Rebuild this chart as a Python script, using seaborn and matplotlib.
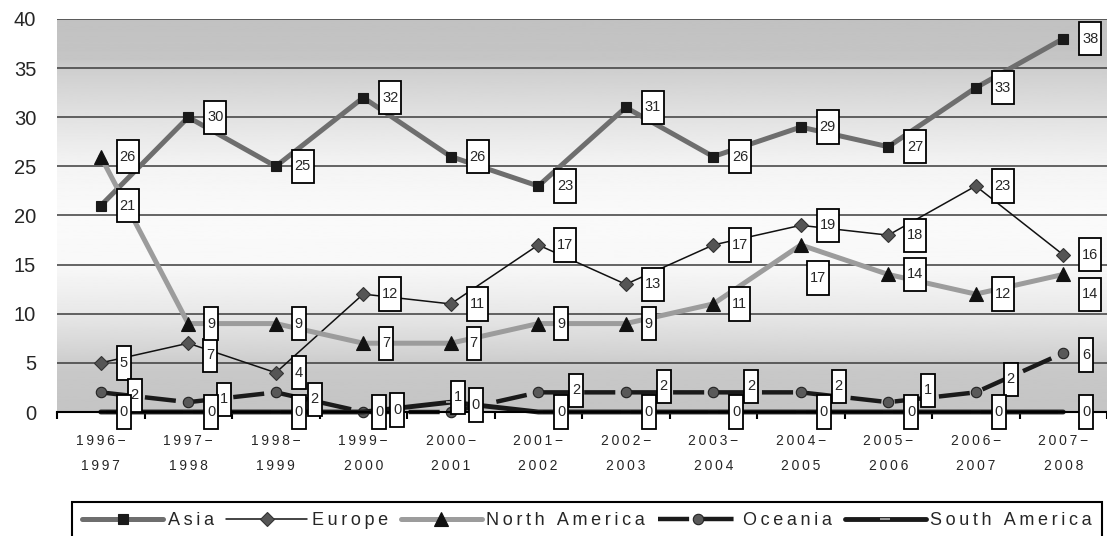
import numpy as np
import pandas as pd
import seaborn as sns
import matplotlib.pyplot as plt
from matplotlib.path import Path

# academic years on the x axis
periods = ["1996-1997", "1997-1998", "1998-1999", "1999-2000", "2000-2001", "2001-2002",
           "2002-2003", "2003-2004", "2004-2005", "2005-2006", "2006-2007", "2007-2008"]
regions = ["Asia", "Europe", "North America", "Oceania", "South America"]

asia = [21, 30, 25, 32, 26, 23, 31, 26, 29, 27, 33, 38]
europe = [5, 7, 4, 12, 11, 17, 13, 17, 19, 18, 23, 16]
north_america = [26, 9, 9, 7, 7, 9, 9, 11, 17, 14, 12, 14]
oceania = [2, 1, 2, 0, 0, 2, 2, 2, 2, 1, 2, 6]
south_america = [0, 0, 0, 0, 1, 0, 0, 0, 0, 0, 0, 0]
y_ticks = [0, 5, 10, 15, 20, 25, 30, 35, 40]

df = pd.DataFrame({
    "period": periods * len(regions),
    "region": np.repeat(regions, len(periods)),
    "count": asia + europe + north_america + oceania + south_america,
})
df["pos"] = df.groupby("region").cumcount()

styles = {
    "Asia": dict(color="#6e6e6e", lw=3.6, marker="s", ms=7.5, mfc="#1a1a1a", mec="#1a1a1a"),
    "Europe": dict(color="#111111", lw=1.1, marker="D", ms=7, mfc="#555555", mec="#333333"),
    "North America": dict(color="#9c9c9c", lw=3.6, marker="^", ms=9.5, mfc="#111111", mec="#111111"),
    "Oceania": dict(color="#1a1a1a", lw=3.2, marker="o", ms=7.5, mfc="#595959", mec="#222222",
                    dashes=(7, 3)),
    "South America": dict(color="#1a1a1a", lw=3.5, marker="_", ms=7, mfc="#999999", mec="#999999"),
}

# label box: left edge offset from the point and downward shift, in pixels
label_default = {"Asia": (16, 0), "Europe": (16, 0), "North America": (16, 0),
                 "Oceania": (31, -6), "South America": (16, 0)}
label_override = {
    ("Europe", 1): (15, 12),
    ("North America", 8): (6, 33),
    ("North America", 11): (16, 20),
    ("Oceania", 0): (27, 3),
    ("Oceania", 1): (29, -3),
    ("Oceania", 2): (32, 7),
    ("Oceania", 3): (27, -2),
    ("Oceania", 4): (18, -7),
    ("Oceania", 5): (31, -2),
    ("Oceania", 9): (33, -12),
    ("Oceania", 10): (28, -13),
    ("Oceania", 11): (16, 2),
    ("South America", 3): (9, 0),
    ("South America", 4): (0, -5),
}


def tall_box(x0, y0, width, height, mutation_size):
    px, py = 0.2 * mutation_size, 0.66 * mutation_size
    x1, y1 = x0 + width + px, y0 + height + py
    x0, y0 = x0 - px, y0 - py
    return Path([(x0, y0), (x1, y0), (x1, y1), (x0, y1), (x0, y0)], closed=True)


def spaced(s, gap="\u2009"):
    return gap.join(s)


sns.set_theme(style="white")
plt.rcParams["font.family"] = ["Liberation Sans", "DejaVu Sans"]

fig = plt.figure(figsize=(11.07, 5.36), dpi=100)
ax = fig.add_axes([57 / 1107, 1 - 412 / 536, 1050 / 1107, 393 / 536])

# background: grey at top and bottom, fading to white in the middle
gy = np.linspace(0, 40, 400)
shade = np.interp(gy, [0, 4, 10, 15, 20, 25, 30, 35, 36, 40],
                  [196, 200, 232, 248, 250, 244, 226, 206, 197, 193])
ax.imshow(shade[:, None], extent=(-0.5, 11.5, 0, 40), origin="lower", cmap="gray",
          vmin=0, vmax=255, aspect="auto", zorder=0)

handles = []
for r in regions:
    st = styles[r]
    sns.lineplot(data=df[df.region == r], x="pos", y="count", ax=ax, legend=False,
                 errorbar=None, sort=False, color=st["color"], lw=st["lw"],
                 marker=st["marker"], ms=st["ms"], mfc=st["mfc"], mec=st["mec"],
                 mew=1.5 if st["marker"] == "_" else 0.8, clip_on=False)
    line = ax.lines[-1]
    if "dashes" in st:
        line.set_dashes(st["dashes"])
    line.set_label(r)
    handles.append(line)

fs_lab = 10.5
pad_px = 0.2 * fs_lab * 100 / 72
for r in regions:
    sub = df[df.region == r]
    for i, v in zip(sub["pos"], sub["count"]):
        edge, down = label_override.get((r, i), label_default[r])
        ax.annotate(str(v), (i, v), xytext=(edge + pad_px, -down), textcoords="offset pixels",
                    ha="left", va="center", fontsize=fs_lab, zorder=10, annotation_clip=False,
                    bbox=dict(boxstyle=tall_box, fc="white", ec="black", lw=1.3))

ax.set_xlim(-0.5, 11.5 - 10 / 88.36)
ax.set_ylim(0, 40)
ax.set_xlabel("")
ax.set_ylabel("")

ax.set_yticks(y_ticks)
ax.yaxis.grid(True, color="#3c3c3c", lw=1.1)
ax.xaxis.grid(False)
ax.set_axisbelow(True)
ax.tick_params(axis="y", length=0, pad=15, labelsize=14.5)

xlabels = [spaced(p.split("-")[0] + "\u2212") + "\n" + spaced(p.split("-")[1]) for p in periods]
ax.set_xticks(range(len(periods)))
ax.set_xticklabels(xlabels, fontsize=10, linespacing=1.95)
ax.set_xticks(np.arange(-0.5, 12, 1), minor=True)
ax.tick_params(axis="x", which="major", length=0, pad=16)
ax.tick_params(axis="x", which="minor", bottom=True, length=5, width=1.5, color="black",
               direction="out")

for s in ["left", "right", "top"]:
    ax.spines[s].set_visible(False)
ax.spines["bottom"].set_color("black")
ax.spines["bottom"].set_linewidth(1.5)

leg = fig.legend(handles, [spaced(r) for r in regions], loc="upper left",
                 bbox_to_anchor=(72 / 1107, 0, 1030 / 1107, 1 - 502 / 536), mode="expand",
                 ncol=5, borderaxespad=0, borderpad=0.55, fontsize=13, handlelength=4.5,
                 handletextpad=0.25, fancybox=False, framealpha=1, edgecolor="black")
leg.get_frame().set_linewidth(1.5)

fig.savefig("out.png", dpi=100)
